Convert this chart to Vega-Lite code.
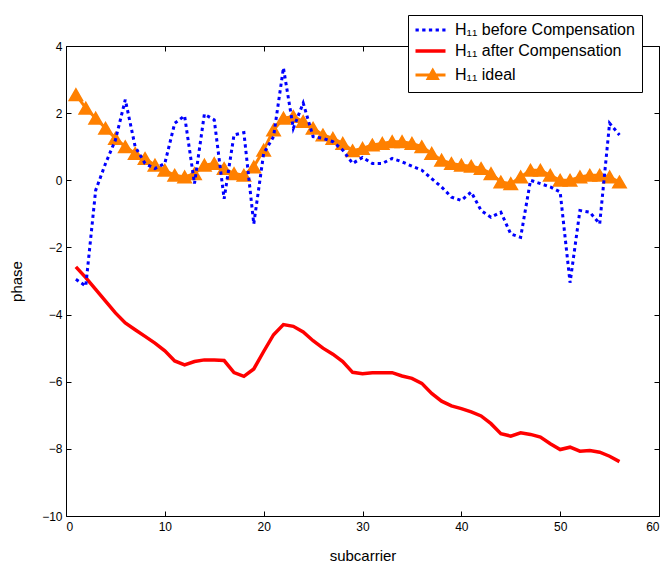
{
  "$schema": "https://vega.github.io/schema/vega-lite/v6.json",
  "width": 593,
  "height": 470,
  "autosize": "none",
  "padding": {"left": 66, "top": 46, "right": 3, "bottom": 47},
  "background": "white",
  "datasets": {
    "phase": [
      {"x":1,"y":-2.95,"s":"before"},{"x":2,"y":-3.15,"s":"before"},{"x":3,"y":-0.3,"s":"before"},{"x":4,"y":0.5,"s":"before"},{"x":5,"y":1.2,"s":"before"},{"x":6,"y":2.4,"s":"before"},{"x":7,"y":1.0,"s":"before"},{"x":8,"y":0.5,"s":"before"},{"x":9,"y":0.35,"s":"before"},{"x":10,"y":0.5,"s":"before"},
      {"x":11,"y":1.7,"s":"before"},{"x":12,"y":1.92,"s":"before"},{"x":13,"y":-0.1,"s":"before"},{"x":14,"y":1.97,"s":"before"},{"x":15,"y":1.8,"s":"before"},{"x":16,"y":-0.55,"s":"before"},{"x":17,"y":1.35,"s":"before"},{"x":18,"y":1.42,"s":"before"},{"x":19,"y":-1.3,"s":"before"},{"x":20,"y":0.8,"s":"before"},
      {"x":21,"y":1.3,"s":"before"},{"x":22,"y":3.35,"s":"before"},{"x":23,"y":1.55,"s":"before"},{"x":24,"y":2.3,"s":"before"},{"x":25,"y":1.3,"s":"before"},{"x":26,"y":1.25,"s":"before"},{"x":27,"y":1.15,"s":"before"},{"x":28,"y":0.9,"s":"before"},{"x":29,"y":0.5,"s":"before"},{"x":30,"y":0.68,"s":"before"},
      {"x":31,"y":0.5,"s":"before"},{"x":32,"y":0.5,"s":"before"},{"x":33,"y":0.65,"s":"before"},{"x":34,"y":0.55,"s":"before"},{"x":35,"y":0.42,"s":"before"},{"x":36,"y":0.3,"s":"before"},{"x":37,"y":0.05,"s":"before"},{"x":38,"y":-0.2,"s":"before"},{"x":39,"y":-0.5,"s":"before"},{"x":40,"y":-0.6,"s":"before"},
      {"x":41,"y":-0.35,"s":"before"},{"x":42,"y":-0.9,"s":"before"},{"x":43,"y":-1.1,"s":"before"},{"x":44,"y":-0.95,"s":"before"},{"x":45,"y":-1.6,"s":"before"},{"x":46,"y":-1.7,"s":"before"},{"x":47,"y":0.0,"s":"before"},{"x":48,"y":-0.1,"s":"before"},{"x":49,"y":-0.2,"s":"before"},{"x":50,"y":-0.35,"s":"before"},
      {"x":51,"y":-3.05,"s":"before"},{"x":52,"y":-0.9,"s":"before"},{"x":53,"y":-0.95,"s":"before"},{"x":54,"y":-1.3,"s":"before"},{"x":55,"y":1.7,"s":"before"},{"x":56,"y":1.35,"s":"before"},
      {"x":1,"y":-2.58,"s":"after"},{"x":2,"y":-2.9,"s":"after"},{"x":3,"y":-3.25,"s":"after"},{"x":4,"y":-3.6,"s":"after"},{"x":5,"y":-3.95,"s":"after"},{"x":6,"y":-4.25,"s":"after"},{"x":7,"y":-4.45,"s":"after"},{"x":8,"y":-4.65,"s":"after"},{"x":9,"y":-4.85,"s":"after"},{"x":10,"y":-5.08,"s":"after"},
      {"x":11,"y":-5.38,"s":"after"},{"x":12,"y":-5.5,"s":"after"},{"x":13,"y":-5.4,"s":"after"},{"x":14,"y":-5.35,"s":"after"},{"x":15,"y":-5.35,"s":"after"},{"x":16,"y":-5.37,"s":"after"},{"x":17,"y":-5.73,"s":"after"},{"x":18,"y":-5.84,"s":"after"},{"x":19,"y":-5.62,"s":"after"},{"x":20,"y":-5.1,"s":"after"},
      {"x":21,"y":-4.6,"s":"after"},{"x":22,"y":-4.3,"s":"after"},{"x":23,"y":-4.35,"s":"after"},{"x":24,"y":-4.52,"s":"after"},{"x":25,"y":-4.78,"s":"after"},{"x":26,"y":-5.0,"s":"after"},{"x":27,"y":-5.18,"s":"after"},{"x":28,"y":-5.4,"s":"after"},{"x":29,"y":-5.72,"s":"after"},{"x":30,"y":-5.76,"s":"after"},
      {"x":31,"y":-5.73,"s":"after"},{"x":32,"y":-5.73,"s":"after"},{"x":33,"y":-5.73,"s":"after"},{"x":34,"y":-5.83,"s":"after"},{"x":35,"y":-5.9,"s":"after"},{"x":36,"y":-6.05,"s":"after"},{"x":37,"y":-6.35,"s":"after"},{"x":38,"y":-6.58,"s":"after"},{"x":39,"y":-6.72,"s":"after"},{"x":40,"y":-6.8,"s":"after"},
      {"x":41,"y":-6.9,"s":"after"},{"x":42,"y":-7.02,"s":"after"},{"x":43,"y":-7.25,"s":"after"},{"x":44,"y":-7.55,"s":"after"},{"x":45,"y":-7.62,"s":"after"},{"x":46,"y":-7.52,"s":"after"},{"x":47,"y":-7.57,"s":"after"},{"x":48,"y":-7.65,"s":"after"},{"x":49,"y":-7.85,"s":"after"},{"x":50,"y":-8.02,"s":"after"},
      {"x":51,"y":-7.95,"s":"after"},{"x":52,"y":-8.07,"s":"after"},{"x":53,"y":-8.05,"s":"after"},{"x":54,"y":-8.1,"s":"after"},{"x":55,"y":-8.22,"s":"after"},{"x":56,"y":-8.38,"s":"after"},
      {"x":1,"y":2.55,"s":"ideal"},{"x":2,"y":2.15,"s":"ideal"},{"x":3,"y":1.85,"s":"ideal"},{"x":4,"y":1.55,"s":"ideal"},{"x":5,"y":1.25,"s":"ideal"},{"x":6,"y":1.0,"s":"ideal"},{"x":7,"y":0.8,"s":"ideal"},{"x":8,"y":0.65,"s":"ideal"},{"x":9,"y":0.45,"s":"ideal"},{"x":10,"y":0.3,"s":"ideal"},
      {"x":11,"y":0.15,"s":"ideal"},{"x":12,"y":0.1,"s":"ideal"},{"x":13,"y":0.2,"s":"ideal"},{"x":14,"y":0.45,"s":"ideal"},{"x":15,"y":0.5,"s":"ideal"},{"x":16,"y":0.35,"s":"ideal"},{"x":17,"y":0.2,"s":"ideal"},{"x":18,"y":0.15,"s":"ideal"},{"x":19,"y":0.4,"s":"ideal"},{"x":20,"y":0.9,"s":"ideal"},
      {"x":21,"y":1.5,"s":"ideal"},{"x":22,"y":1.85,"s":"ideal"},{"x":23,"y":1.9,"s":"ideal"},{"x":24,"y":1.75,"s":"ideal"},{"x":25,"y":1.55,"s":"ideal"},{"x":26,"y":1.35,"s":"ideal"},{"x":27,"y":1.25,"s":"ideal"},{"x":28,"y":1.1,"s":"ideal"},{"x":29,"y":0.88,"s":"ideal"},{"x":30,"y":0.95,"s":"ideal"},
      {"x":31,"y":1.05,"s":"ideal"},{"x":32,"y":1.1,"s":"ideal"},{"x":33,"y":1.15,"s":"ideal"},{"x":34,"y":1.15,"s":"ideal"},{"x":35,"y":1.1,"s":"ideal"},{"x":36,"y":1.0,"s":"ideal"},{"x":37,"y":0.8,"s":"ideal"},{"x":38,"y":0.6,"s":"ideal"},{"x":39,"y":0.5,"s":"ideal"},{"x":40,"y":0.45,"s":"ideal"},
      {"x":41,"y":0.42,"s":"ideal"},{"x":42,"y":0.35,"s":"ideal"},{"x":43,"y":0.2,"s":"ideal"},{"x":44,"y":-0.05,"s":"ideal"},{"x":45,"y":-0.1,"s":"ideal"},{"x":46,"y":0.1,"s":"ideal"},{"x":47,"y":0.3,"s":"ideal"},{"x":48,"y":0.3,"s":"ideal"},{"x":49,"y":0.15,"s":"ideal"},{"x":50,"y":0.0,"s":"ideal"},
      {"x":51,"y":0.0,"s":"ideal"},{"x":52,"y":0.1,"s":"ideal"},{"x":53,"y":0.15,"s":"ideal"},{"x":54,"y":0.15,"s":"ideal"},{"x":55,"y":0.1,"s":"ideal"},{"x":56,"y":-0.05,"s":"ideal"}
    ]
  },
  "data": {"name": "phase"},
  "layer": [
    {
      "layer": [
        {
          "transform": [{"filter": "datum.s == 'ideal'"}],
          "mark": {"type": "line", "strokeWidth": 3},
          "encoding": {
            "x": {"field": "x", "type": "quantitative", "scale": {"domain": [0, 60], "nice": false}, "axis": {"values": [0, 10, 20, 30, 40, 50, 60], "title": "subcarrier", "orient": "bottom"}},
            "y": {"field": "y", "type": "quantitative", "scale": {"domain": [-10, 4], "nice": false, "zero": false}, "axis": {"values": [-10, -8, -6, -4, -2, 0, 2, 4], "title": "phase", "orient": "left"}},
            "color": {"field": "s", "type": "nominal", "scale": {"domain": ["before", "after", "ideal"], "range": ["#0000ff", "#ff0000", "#ff8000"]}, "legend": {
              "labelExpr": "datum.label == 'ideal' ? 'H₁₁ ideal' : 'H₁₁ ' + datum.label + ' Compensation'",
              "encode": {"symbols": {"update": {
                "shape": {"signal": "datum.value == 'ideal' ? 'M-1,0H3M0.7,0.45L1.3,-0.6L1.9,0.45Z' : 'M-1,0H3'"},
                "fill": {"signal": "datum.value == 'ideal' ? '#ff8000' : 'transparent'"},
                "strokeDash": {"signal": "datum.value == 'before' ? [3.3, 3.4] : [1, 0]"},
                "strokeWidth": {"signal": "datum.value == 'after' ? 3.5 : 3"}
              }}}
            }}
          }
        },
        {
          "transform": [{"filter": "datum.s == 'ideal'"}],
          "mark": {"type": "point", "shape": "triangle-up", "filled": true, "size": 180, "fill": "#ff8000", "stroke": "#ff8000", "strokeWidth": 1.5, "opacity": 1},
          "encoding": {
            "x": {"field": "x", "type": "quantitative"},
            "y": {"field": "y", "type": "quantitative"}
          }
        },
        {
          "transform": [{"filter": "datum.s == 'after'"}],
          "mark": {"type": "line", "strokeWidth": 3.5},
          "encoding": {
            "x": {"field": "x", "type": "quantitative"},
            "y": {"field": "y", "type": "quantitative"},
            "color": {"field": "s", "type": "nominal"}
          }
        },
        {
          "transform": [{"filter": "datum.s == 'before'"}],
          "mark": {"type": "line", "strokeWidth": 3, "strokeDash": [3.3, 3.4], "strokeCap": "butt"},
          "encoding": {
            "x": {"field": "x", "type": "quantitative"},
            "y": {"field": "y", "type": "quantitative"},
            "color": {"field": "s", "type": "nominal"}
          }
        }
      ]
    },
    {
      "mark": {"type": "point", "opacity": 0},
      "encoding": {
        "x": {"field": "x", "type": "quantitative", "axis": {"orient": "top", "values": [0, 10, 20, 30, 40, 50, 60], "labels": false, "title": null}},
        "y": {"field": "y", "type": "quantitative", "axis": {"orient": "right", "values": [-10, -8, -6, -4, -2, 0, 2, 4], "labels": false, "title": null}}
      }
    }
  ],
  "resolve": {"axis": {"x": "independent", "y": "independent"}},
  "config": {
    "view": {"stroke": "black", "strokeWidth": 1},
    "axis": {
      "domain": false, "grid": false, "tickSize": -5, "tickColor": "black", "tickWidth": 1,
      "labelFont": "Liberation Sans", "labelFontSize": 12, "labelColor": "black",
      "titleFont": "Liberation Sans", "titleFontSize": 15, "titleFontWeight": "normal", "titleColor": "black"
    },
    "axisX": {"labelPadding": 10, "titlePadding": 16},
    "axisY": {"labelPadding": 9, "titlePadding": 17},
    "legend": {
      "orient": "none", "legendX": 342, "legendY": -31, "title": null,
      "fillColor": "white", "strokeColor": "black", "strokeWidth": 1, "padding": 7,
      "symbolSize": 225, "symbolStrokeWidth": 3, "rowPadding": 5, "labelOffset": 24,
      "labelFont": "Liberation Sans", "labelFontSize": 16, "labelColor": "black", "labelLimit": 400
    }
  }
}
